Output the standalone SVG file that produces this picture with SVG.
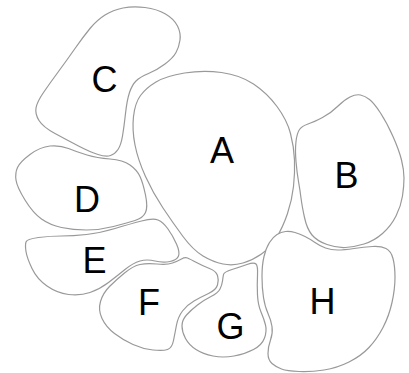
<svg xmlns="http://www.w3.org/2000/svg" width="409" height="373" viewBox="0 0 409 373">
<style>
.r{fill:#fff;stroke:#999;stroke-width:1.2}
.t{font-family:"Liberation Sans",Arial,sans-serif;font-size:36px;fill:#000;text-anchor:middle}
</style>
<rect width="409" height="373" fill="#fff"/>
<g id="C"><path class="r" d="M 90,28.5 Q 97,20 105,15 Q 113,10 123,8 Q 133,6 145,7.5 Q 157,9 165.5,14 Q 174,19 177.5,26 Q 181,33 180,40 Q 179,47 176,52.5 Q 173,58 165,64 Q 157,70 148.5,73.5 Q 140,77 136,81 Q 132,85 129.5,92.5 Q 127,100 125.5,113.5 Q 124,127 122.5,136 Q 121,145 118,149.5 Q 115,154 110.5,155.5 Q 106,157 98,154.5 Q 90,152 78.5,146 Q 67,140 55,133.5 Q 43,127 39,120.5 Q 35,114 36,108 Q 37,102 43.5,92.5 Q 50,83 58.5,71.5 Q 67,60 75,48.5 Q 83,37 90,28.5 Z"/><text class="t" x="104.5" y="92">C</text></g>
<g id="A"><path class="r" d="M 184.5,73 Q 203,70 221.5,72.5 Q 240,75 253.5,84 Q 267,93 277,106.5 Q 287,120 290.5,133.5 Q 294,147 294.5,160 Q 295,173 293.5,186.5 Q 292,200 287.5,213.5 Q 283,227 276.5,237.5 Q 270,248 261.5,254 Q 253,260 243,263 Q 233,266 223,264 Q 213,262 203,256 Q 193,250 183,236.5 Q 173,223 163,208 Q 153,193 145.5,176.5 Q 138,160 135,145 Q 132,130 133.5,116.5 Q 135,103 140.5,95.5 Q 146,88 156,82 Q 166,76 184.5,73 Z"/><text class="t" x="222" y="163">A</text></g>
<g id="B"><path class="r" d="M 360.5,95 Q 356,94 350,97 Q 344,100 337.5,106.5 Q 331,113 322.5,117.5 Q 314,122 308,124 Q 302,126 299.5,129.5 Q 297,133 296,141.5 Q 295,150 296,161.5 Q 297,173 298.5,181.5 Q 300,190 301,198 Q 302,206 304.5,217.5 Q 307,229 312,235 Q 317,241 327,244.5 Q 337,248 345.5,247.5 Q 354,247 364,244 Q 374,241 382.5,233.5 Q 391,226 396,216 Q 401,206 402.5,196 Q 404,186 404,178 Q 404,170 401.5,160 Q 399,150 393,136.5 Q 387,123 380.5,113 Q 374,103 369.5,99.5 Q 365,96 360.5,95 Z"/><text class="t" x="346.5" y="188">B</text></g>
<g id="D"><path class="r" d="M 17.5,167.5 Q 20,162 30,154.5 Q 40,147 50,146 Q 60,145 68.5,148.5 Q 77,152 87,155 Q 97,158 110,159 Q 123,160 130,165 Q 137,170 140,176.5 Q 143,183 145.5,195 Q 148,207 145.5,212.5 Q 143,218 135,220.5 Q 127,223 113.5,226.5 Q 100,230 86.5,230 Q 73,230 61.5,227.5 Q 50,225 41.5,219 Q 33,213 25,200 Q 17,187 16,180 Q 15,173 17.5,167.5 Z"/><text class="t" x="87" y="212">D</text></g>
<g id="E"><path class="r" d="M 26,242 Q 27,239 38.5,237.5 Q 50,236 61.5,236 Q 73,236 86.5,234.5 Q 100,233 115,228.5 Q 130,224 141.5,221 Q 153,218 158,220 Q 163,222 168,229 Q 173,236 176.5,244 Q 180,252 178.5,256 Q 177,260 170,261.5 Q 163,263 155,261 Q 147,259 140,261 Q 133,263 125,269.5 Q 117,276 108.5,282.5 Q 100,289 90,292.5 Q 80,296 68.5,294.5 Q 57,293 47,286 Q 37,279 32,268.5 Q 27,258 26,251.5 Q 25,245 26,242 Z"/><text class="t" x="94.5" y="273">E</text></g>
<g id="F"><path class="r" d="M 124.5,273 Q 133,266 140,264.5 Q 147,263 157,264 Q 167,265 172.5,263 Q 178,261 181.5,259 Q 185,257 187.5,258 Q 190,259 196.5,262.5 Q 203,266 209.5,268.5 Q 216,271 217.5,275.5 Q 219,280 217.5,285 Q 216,290 208.5,293.5 Q 201,297 194,301 Q 187,305 182.5,311 Q 178,317 176.5,325 Q 175,333 173.5,340.5 Q 172,348 167.5,349.5 Q 163,351 153,350 Q 143,349 133,344.5 Q 123,340 114.5,333.5 Q 106,327 102,318.5 Q 98,310 100.5,301.5 Q 103,293 109.5,286.5 Q 116,280 124.5,273 Z"/><text class="t" x="149" y="315">F</text></g>
<g id="G"><path class="r" d="M 223.5,274.5 Q 224,272 232,269.5 Q 240,267 247,264.5 Q 254,262 256,264 Q 258,266 257.5,275.5 Q 257,285 257.5,295 Q 258,305 261,312 Q 264,319 265.5,325 Q 267,331 264.5,338 Q 262,345 253.5,349.5 Q 245,354 234,356 Q 223,358 213,356 Q 203,354 196,349.5 Q 189,345 185.5,338.5 Q 182,332 182,326 Q 182,320 186.5,315 Q 191,310 197.5,305 Q 204,300 211,296.5 Q 218,293 220,289 Q 222,285 222.5,281 Q 223,277 223.5,274.5 Z"/><text class="t" x="230.5" y="339">G</text></g>
<g id="H"><path class="r" d="M 285.5,231.5 Q 290,231 295,232.5 Q 300,234 305,236.5 Q 310,239 315,242.5 Q 320,246 325.5,248 Q 331,250 337.5,250 Q 344,250 354,248.5 Q 364,247 372.5,246.5 Q 381,246 386,248.5 Q 391,251 393,258.5 Q 395,266 395,277.5 Q 395,289 392,302.5 Q 389,316 383,327.5 Q 377,339 369,347.5 Q 361,356 349,362 Q 337,368 324,370 Q 311,372 299,371.5 Q 287,371 281.5,369 Q 276,367 272,363.5 Q 268,360 268,353.5 Q 268,347 270.5,340 Q 273,333 272,326.5 Q 271,320 268,313.5 Q 265,307 263.5,297.5 Q 262,288 262,276.5 Q 262,265 264,256.5 Q 266,248 269.5,242.5 Q 273,237 277,234.5 Q 281,232 285.5,231.5 Z"/><text class="t" x="322.5" y="314">H</text></g>
<g id="connectors"/>
</svg>
